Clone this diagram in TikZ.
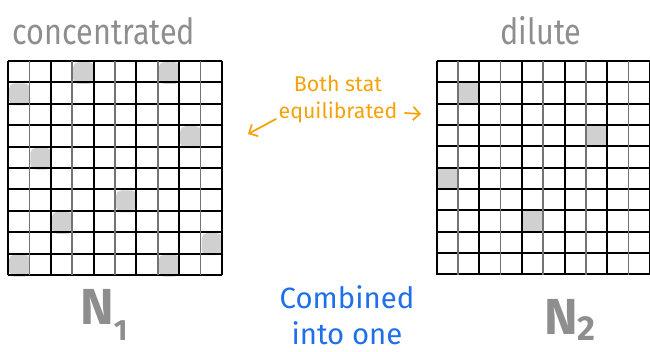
\documentclass[tikz,border=0pt]{standalone}
\usepackage{fontspec}
\setmainfont{Fira Sans}
\usepackage{xcolor}
\usetikzlibrary{arrows.meta}

\definecolor{inkgray}{HTML}{8E8E8E}
\definecolor{cellgray}{HTML}{D0D0D0}
\definecolor{noteorange}{HTML}{F5A20A}
\definecolor{noteblue}{HTML}{1F6FEB}

\tikzset{
  darkrule/.style={draw=black, line width=1.5pt},
  lightrule/.style={draw=black!55, line width=1.2pt},
  blob/.style={fill=cellgray, rounded corners=4pt},
  dot/.style={fill=cellgray},
  handtext/.style={inner sep=0.75pt},
  notearrow/.style={draw=noteorange, line width=1.3pt, line cap=round, -{Straight Barb[length=5pt,width=10pt]}}
}

\begin{document}
\begin{tikzpicture}[x=0.75pt,y=0.75pt,yscale=-1,xscale=1]
\useasboundingbox (0,0) rectangle (650,352);

% concentrated box
\foreach \c/\r in {3/0,7/0,0/1,8/3,1/4,5/6,2/7,9/8,0/9,7/9}
  \fill [blob] (9+21.4*\c,62+21.4*\r) rectangle (8.5+21.4*\c+21.4,63+21.4*\r+21);
\foreach \i in {0,...,10}
  \draw [darkrule] (8,61+21.4*\i) -- (222,61+21.4*\i);
\foreach \i in {1,3,...,9}
  \draw [lightrule] (8+21.4*\i,61) -- (8+21.4*\i,275);
\foreach \i in {0,2,...,10}
  \draw [darkrule] (8+21.4*\i,61) -- (8+21.4*\i,275);

% dilute box
\foreach \c/\r in {1/1,7/3,0/5,4/7}
  \fill [dot] (436.5+21.35*\c,61+21.35*\r) rectangle (436.5+21.35*\c+21.35,61+21.35*\r+21.35);
\foreach \i in {0,...,10}
  \draw [darkrule] (436.5,61+21.35*\i) -- (650,61+21.35*\i);
\foreach \i in {1,3,...,9}
  \draw [lightrule] (436.5+21.35*\i,61) -- (436.5+21.35*\i,275);
\foreach \i in {0,2,...,10}
  \draw [darkrule] (436.5+21.35*\i,61) -- (436.5+21.35*\i,275);

% labels
\node [handtext, text=inkgray, font=\fontsize{27}{27}\selectfont\addfontfeature{FakeStretch=0.85}] (conc) at (104,31) {concentrated};
\node [handtext, text=inkgray, font=\fontsize{27}{27}\selectfont\addfontfeature{FakeStretch=0.85}] (dil) at (541,31) {dilute};
\node [handtext, text=inkgray, font=\fontsize{38}{38}\selectfont\bfseries] (nOne) at (104,315) {N\raisebox{-0.3em}{\fontsize{22}{22}\selectfont 1}};
\node [handtext, text=inkgray, font=\fontsize{38}{38}\selectfont\bfseries] (nTwo) at (570,320) {N\raisebox{-0.12em}{\fontsize{26}{26}\selectfont 2}};

% note
\node [handtext, text=noteorange, align=center, font=\fontsize{16}{20}\selectfont] (note) at (338,99) {Both stat\\equilibrated};
\coordinate (lFrom) at (276,119);
\coordinate (lTo) at (248,134);
\coordinate (rFrom) at (405,113);
\coordinate (rTo) at (421,114);
\draw [notearrow] (lFrom) -- (lTo);
\draw [notearrow] (rFrom) -- (rTo);

\node [handtext, text=noteblue, align=center, font=\fontsize{22}{27}\selectfont] (comb) at (347,315) {Combined\\into one};
\end{tikzpicture}
\end{document}
